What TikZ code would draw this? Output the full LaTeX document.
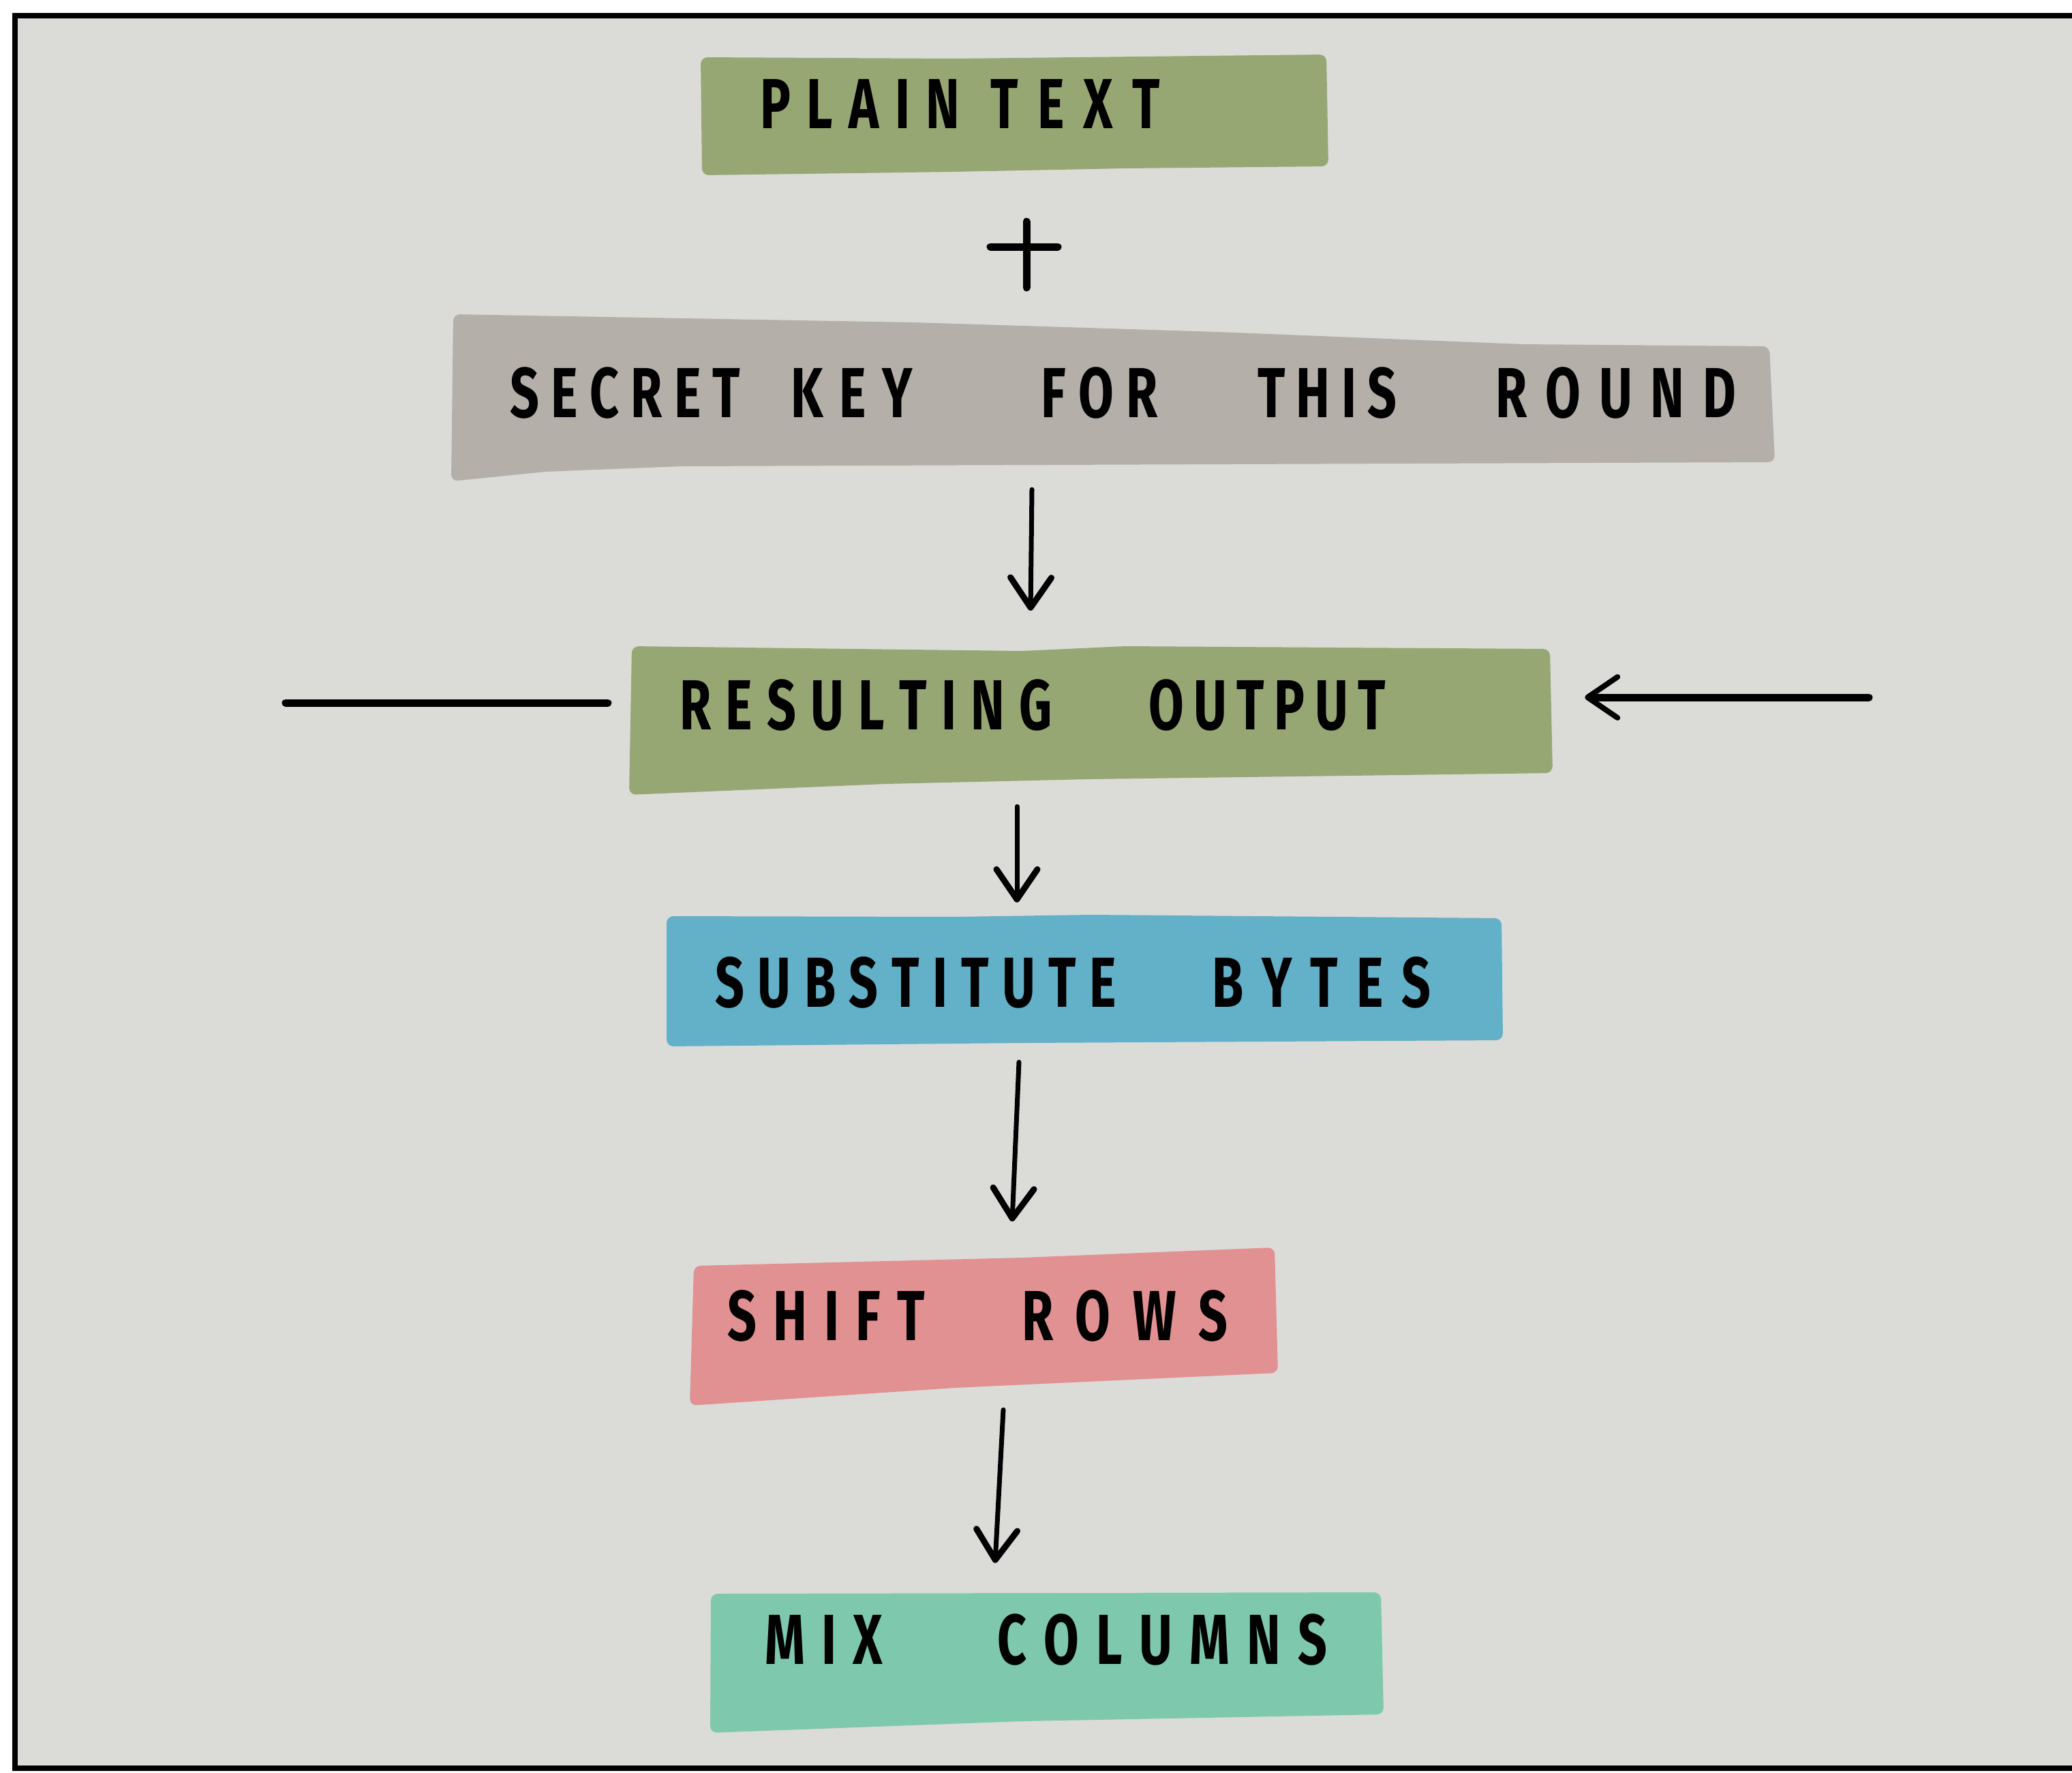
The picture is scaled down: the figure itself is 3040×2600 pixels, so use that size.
\documentclass[tikz,border=0pt]{standalone}
\usepackage{fontspec}
\newfontfamily\handfont[FakeStretch=0.72]{Fira Sans}
\usetikzlibrary{arrows.meta}

\definecolor{paper}{RGB}{219,219,216}
\definecolor{olivebox}{RGB}{151,167,116}
\definecolor{keybox}{RGB}{180,175,168}
\definecolor{bluebox}{RGB}{99,176,201}
\definecolor{pinkbox}{RGB}{226,145,146}
\definecolor{tealbox}{RGB}{126,200,174}

% spread the letters of a word evenly over a given width
\def\lettersep#1#2\stopletters{#1\ifx\relax#2\relax\else\hfil\lettersep#2\stopletters\fi}
\newcommand\wrd[2]{\makebox[#1][s]{\lettersep#2\stopletters}}

\begin{document}
\begin{tikzpicture}[x=1pt,y=-1pt,
  boxarea/.style={rectangle, inner sep=0pt},
  boxtext/.style={anchor=base west, inner sep=0pt,
    font=\handfont\bfseries\fontsize{104}{120}\selectfont},
  flow/.style={line width=7pt, line cap=round,
    -{Straight Barb[round,length=44pt,width=60pt,line width=9pt]}},
  heavyline/.style={line width=11pt, line cap=round},
  heavyarrow/.style={line width=11pt, line cap=round,
    -{Straight Barb[round,length=44pt,width=60pt,line width=8pt]}},
  plusstroke/.style={line width=11pt, line cap=round},
  blob/.style={rounded corners=10pt}]

\useasboundingbox (0,0) rectangle (3040,2600);
\fill[white] (0,0) rectangle (3040,2600);

% sheet with its frame
\draw[line width=8pt, fill=paper] (22,23) rectangle (3080,2594);

% box areas
\node[boxarea, minimum width=920pt, minimum height=176pt] (pt) at (1488,168.5) {};
\node[boxarea, minimum width=1943pt, minimum height=245pt] (key) at (1632.5,583.5) {};
\node[boxarea, minimum width=1355pt, minimum height=219pt] (res) at (1600.5,1056.5) {};
\node[boxarea, minimum width=1227pt, minimum height=191pt] (sub) at (1591.5,1439.5) {};
\node[boxarea, minimum width=863pt, minimum height=232pt] (shf) at (1443.5,1946) {};
\node[boxarea, minimum width=988pt, minimum height=206pt] (mix) at (1536,2439) {};

% painted boxes
\fill[olivebox, blob] (1028,84) -- (1400,86) -- (1946,80) -- (1949,244)
  -- (1650,247) -- (1400,252) -- (1030,257) -- cycle;
\fill[keybox, blob] (665,461) -- (1341,473) -- (1788,487) -- (2234,505)
  -- (2596,508) -- (2604,678) -- (1000,684) -- (800,692) -- (662,706) -- cycle;
\fill[olivebox, blob] (927,948) -- (1500,955) -- (1650,948) -- (2274,952)
  -- (2278,1134) -- (1600,1143) -- (1300,1150) -- (923,1166) -- cycle;
\fill[bluebox, blob] (978,1344) -- (1400,1345) -- (1600,1342) -- (2203,1347)
  -- (2205,1526) -- (1500,1530) -- (978,1535) -- cycle;
\fill[pinkbox, blob] (1018,1857) -- (1500,1845) -- (1870,1830) -- (1875,2014)
  -- (1400,2036) -- (1012,2062) -- cycle;
\fill[tealbox, blob] (1043,2338) -- (2026,2336) -- (2030,2515)
  -- (1500,2525) -- (1042,2542) -- cycle;

% labels
\node[boxtext] (ptl) at (1115,188) {\wrd{293pt}{PLAIN}\hspace{45pt}\wrd{249pt}{TEXT}};
\node[boxtext] (keyl) at (748,612) {\wrd{338pt}{SECRET}\hspace{74pt}\wrd{179pt}{KEY}\hspace{188pt}\wrd{172pt}{FOR}\hspace{146pt}\wrd{204pt}{THIS}\hspace{145pt}\wrd{353pt}{ROUND}};
\node[boxtext] (resl) at (997,1070) {\wrd{547pt}{RESULTING}\hspace{141pt}\wrd{348pt}{OUTPUT}};
\node[boxtext] (subl) at (1049,1477) {\wrd{589pt}{SUBSTITUTE}\hspace{140pt}\wrd{321pt}{BYTES}};
\node[boxtext] (shfl) at (1067,1966) {\wrd{290pt}{SHIFT}\hspace{142pt}\wrd{302pt}{ROWS}};
\node[boxtext] (mixl) at (1122,2441) {\wrd{173pt}{MIX}\hspace{168pt}\wrd{484pt}{COLUMNS}};

% plus sign between plaintext and key
\coordinate (plus) at (1506,362);
\draw[plusstroke] ([xshift=-53pt]plus) -- ([xshift=46pt]plus);
\draw[plusstroke] ([yshift=37pt]plus) -- ([yshift=-60pt]plus);

% flow arrows
\draw[flow] ([xshift=-118.5pt,yshift=-12pt]key.south) -- ([xshift=-88.5pt,yshift=51pt]res.north);
\draw[flow] ([xshift=-108.5pt,yshift=-17pt]res.south) -- ([xshift=-99.5pt,yshift=20pt]sub.north);
\draw[flow] ([xshift=-96.5pt,yshift=-23pt]sub.south) -- ([xshift=41.5pt,yshift=38pt]shf.north);
\draw[flow] ([xshift=28.5pt,yshift=-6pt]shf.south) -- ([xshift=-76pt,yshift=43pt]mix.north);

% side connectors of the resulting output
\coordinate (lin) at (419,1031);
\draw[heavyline] (lin) -- ([xshift=-31pt,yshift=25.5pt]res.west);
\coordinate (rin) at (2742,1023);
\draw[heavyarrow] (rin) -- ([xshift=47pt,yshift=33.5pt]res.east);

\end{tikzpicture}
\end{document}
